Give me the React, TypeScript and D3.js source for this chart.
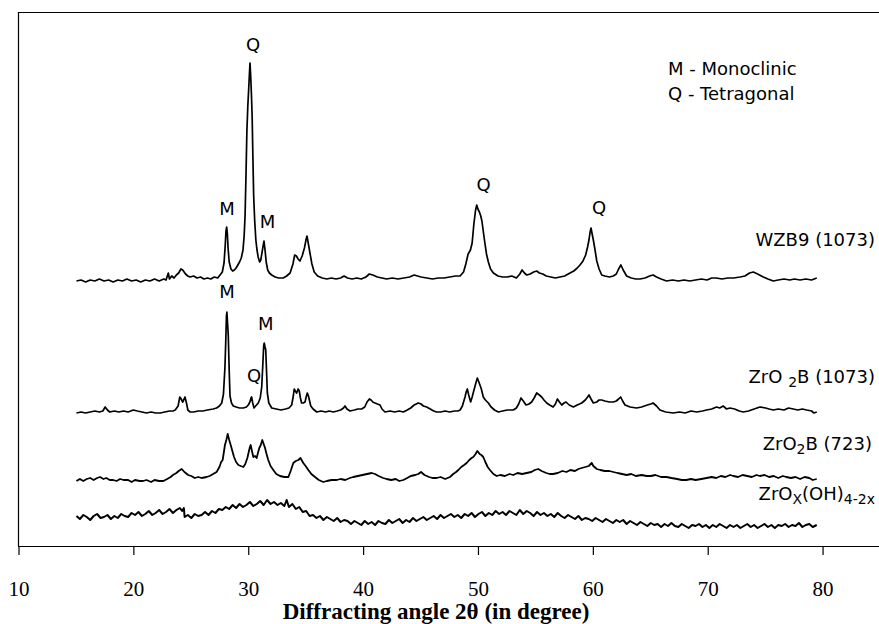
import React from "react";
import * as d3 from "d3";

// 2θ (degree) vs intensity (a.u., traces already vertically offset)
const wzb9: [number, number][] = [[15,265],[15.4,266],[15.8,264],[16.2,266],[16.6,265],[17,267],[17.4,265],[17.8,266],[18.2,264],[18.6,266],[19,265],[19.4,267],[19.8,265],[20.2,266],[20.6,264],[21,266],[21.4,265],[21.8,267],[22.2,265],[22.6,267],[22.8,266],[23.0,273],[23.1,267],[23.3,270],[23.5,268],[23.7,271],[23.9,273],[24.1,277],[24.25,276],[24.5,272],[24.7,270],[24.9,269],[25.2,270],[25.5,268],[25.8,269],[26.1,267],[26.4,268],[26.7,267],[27.0,269],[27.3,268],[27.5,271],[27.7,274],[27.85,283],[27.95,300],[28.02,315],[28.08,319],[28.14,312],[28.2,298],[28.3,284],[28.45,277],[28.6,275],[28.75,276],[28.9,278],[29.05,281],[29.2,284],[29.35,288],[29.5,296],[29.6,310],[29.68,330],[29.76,370],[29.84,415],[29.92,440],[30.0,458],[30.06,472],[30.11,483],[30.17,470],[30.24,450],[30.3,428],[30.36,390],[30.43,350],[30.52,325],[30.62,306],[30.72,296],[30.82,289],[30.95,284],[31.05,286],[31.15,293],[31.25,300],[31.33,305],[31.42,296],[31.52,284],[31.65,276],[31.8,273],[32.0,271],[32.3,269],[32.6,268],[33.0,268],[33.3,270],[33.6,273],[33.85,282],[34.0,291],[34.15,290],[34.3,287],[34.46,285],[34.65,290],[34.85,298],[35.0,307],[35.07,310],[35.18,303],[35.33,293],[35.5,282],[35.7,274],[36.0,270],[36.4,268],[36.8,267],[37.2,268],[37.6,267],[38.0,268],[38.3,270],[38.6,268],[39.0,267],[39.4,268],[39.8,267],[40.2,269],[40.5,272],[40.8,271],[41.2,269],[41.6,268],[42.0,267],[42.5,268],[43.0,267],[43.5,268],[44.0,269],[44.4,271],[44.7,270],[45.0,269],[45.5,268],[46.0,267],[46.5,268],[47.0,268],[47.5,269],[48.0,270],[48.4,270],[48.7,274],[48.9,282],[49.1,292],[49.3,296],[49.45,303],[49.6,322],[49.75,336],[49.85,341],[49.95,337],[50.08,334],[50.2,330],[50.3,325],[50.45,312],[50.57,302],[50.7,292],[50.86,284],[51.05,277],[51.3,273],[51.7,270],[52.1,269],[52.5,269],[52.9,270],[53.3,268],[53.6,272],[53.8,276],[54.0,273],[54.2,271],[54.5,272],[54.8,274],[55.07,275],[55.3,273],[55.6,272],[55.9,270],[56.3,269],[56.7,268],[57.1,269],[57.5,270],[57.97,273],[58.3,275],[58.6,278],[58.84,281],[59.1,285],[59.33,291],[59.5,299],[59.62,306],[59.72,314],[59.8,318],[59.88,313],[60.0,306],[60.12,298],[60.3,285],[60.5,277],[60.73,271],[61.0,270],[61.4,269],[61.74,270],[62.0,272],[62.2,277],[62.4,281],[62.6,276],[62.9,270],[63.3,268],[63.7,267],[64.07,267],[64.5,268],[64.9,270],[65.2,271],[65.5,269],[65.9,267],[66.37,265],[66.9,266],[67.4,265],[67.9,266],[68.4,265],[68.9,266],[69.4,267],[69.9,266],[70.3,268],[70.7,268],[71.2,267],[71.7,268],[72.2,268],[72.77,269],[73.2,270],[73.6,273],[73.93,274],[74.3,272],[74.8,269],[75.2,267],[75.67,265],[76.1,266],[76.6,267],[77.1,266],[77.5,267],[78.0,266],[78.5,267],[79.0,266],[79.45,268]];

const zro2b1073: [number, number][] = [[15,133],[15.4,134],[15.8,133],[16.2,134],[16.6,135],[17.0,134],[17.3,135],[17.5,139],[17.7,136],[17.9,134],[18.3,135],[18.7,134],[19.1,135],[19.5,134],[19.95,136],[20.3,135],[20.7,134],[21.1,133],[21.5,134],[21.9,133],[22.3,133],[22.7,134],[23.1,135],[23.4,135],[23.6,136],[23.85,140],[24.0,149],[24.12,147],[24.25,144],[24.38,147],[24.45,149],[24.58,143],[24.7,136],[24.9,134],[25.2,134],[25.6,135],[26.0,135],[26.4,136],[26.9,137],[27.2,138],[27.45,140],[27.65,143],[27.8,152],[27.93,179],[28.0,205],[28.06,230],[28.1,234],[28.16,222],[28.22,210],[28.3,175],[28.37,150],[28.5,143],[28.66,140],[28.9,139],[29.2,138],[29.53,138],[29.8,139],[29.96,141],[30.1,144],[30.2,148],[30.25,149],[30.35,143],[30.46,138],[30.6,140],[30.83,143],[31.0,148],[31.13,159],[31.22,180],[31.3,200],[31.35,203],[31.42,199],[31.48,196],[31.55,175],[31.62,153],[31.75,143],[32.0,138],[32.4,137],[32.8,136],[33.2,137],[33.5,138],[33.74,141],[33.88,150],[33.96,157],[34.05,155],[34.17,153],[34.3,157],[34.4,155],[34.5,148],[34.6,143],[34.75,143],[34.9,144],[35.0,149],[35.1,153],[35.2,150],[35.3,145],[35.4,140],[35.6,137],[35.92,134],[36.3,135],[36.7,134],[37.0,135],[37.37,134],[37.7,135],[38.0,136],[38.25,138],[38.38,140],[38.55,137],[38.82,135],[39.2,136],[39.5,137],[39.83,137],[40.1,139],[40.3,144],[40.5,147],[40.65,146],[40.8,144],[40.99,143],[41.2,142],[41.43,141],[41.6,137],[41.86,134],[42.3,135],[42.7,134],[43.1,135],[43.46,134],[43.8,136],[44.1,138],[44.4,141],[44.76,143],[45.0,142],[45.2,140],[45.49,139],[45.8,137],[46.1,135],[46.36,134],[46.7,134],[47.1,135],[47.5,134],[47.9,135],[48.2,135],[48.4,136],[48.6,140],[48.83,149],[48.93,154],[49.03,157],[49.15,151],[49.32,144],[49.45,149],[49.61,156],[49.75,162],[49.9,168],[50.0,165],[50.13,161],[50.25,157],[50.42,149],[50.6,146],[50.86,143],[51.1,139],[51.4,136],[51.73,134],[52.1,135],[52.5,136],[53.03,136],[53.3,138],[53.5,142],[53.7,148],[53.9,145],[54.14,141],[54.4,142],[54.63,144],[54.85,148],[55.07,153],[55.3,151],[55.5,149],[55.7,146],[55.94,143],[56.2,141],[56.5,139],[56.7,142],[56.87,147],[57.05,144],[57.25,141],[57.45,143],[57.62,144],[57.9,141],[58.26,139],[58.6,141],[58.99,143],[59.3,146],[59.5,149],[59.62,151],[59.8,147],[60.0,143],[60.3,144],[60.5,146],[60.73,146],[61.0,145],[61.4,144],[61.74,144],[62.0,145],[62.2,147],[62.38,149],[62.55,145],[62.76,141],[63.2,139],[63.77,138],[64.2,139],[64.7,141],[65.0,142],[65.2,143],[65.5,140],[65.8,136],[66.3,134],[66.96,133],[67.5,134],[68.0,133],[68.5,135],[69.0,134],[69.5,135],[69.86,136],[70.3,137],[70.73,139],[71.0,138],[71.3,140],[71.6,137],[71.89,138],[72.3,137],[72.7,135],[73.05,134],[73.5,135],[74.0,137],[74.5,139],[75.0,138],[75.3,137],[75.67,136],[76.1,137],[76.6,136],[77.0,138],[77.4,137],[77.8,136],[78.2,137],[78.57,136],[79.0,135],[79.2,133],[79.45,134]];

const zro2b723: [number, number][] = [[15,65],[15.3,67],[15.6,65],[15.9,67],[16.2,68],[16.5,66],[16.8,68],[17.05,69],[17.35,67],[17.6,68],[17.9,66],[18.2,66],[18.5,65],[18.8,67],[19.1,66],[19.5,66],[19.8,64],[20.1,66],[20.5,65],[20.8,65],[21.1,66],[21.5,64],[21.8,66],[22.2,65],[22.57,65],[22.9,67],[23.2,69],[23.4,71],[23.7,73],[23.9,75],[24.16,77],[24.4,74],[24.73,71],[25.0,70],[25.3,68],[25.6,69],[25.9,68],[26.33,69],[26.6,70],[26.9,72],[27.2,74],[27.45,79],[27.6,84],[27.73,86],[27.85,95],[27.93,101],[28.05,106],[28.17,112],[28.3,106],[28.43,101],[28.55,96],[28.72,89],[28.9,84],[29.1,81],[29.3,80],[29.53,79],[29.7,82],[29.88,88],[30.0,94],[30.1,99],[30.17,101],[30.28,95],[30.4,89],[30.55,90],[30.69,88],[30.8,93],[30.92,98],[31.05,101],[31.18,106],[31.3,102],[31.42,98],[31.55,92],[31.7,86],[31.9,80],[32.14,76],[32.4,72],[32.72,70],[33.1,69],[33.45,69],[33.65,75],[33.88,83],[34.1,85],[34.32,86],[34.5,88],[34.75,83],[34.95,80],[35.19,76],[35.45,72],[35.77,69],[36.1,66],[36.49,64],[36.8,65],[37.2,66],[37.66,66],[38.0,67],[38.4,66],[38.8,68],[39.1,69],[39.5,70],[39.9,71],[40.3,72],[40.7,73],[41.0,72],[41.3,70],[41.7,68],[42.0,67],[42.4,66],[42.8,67],[43.1,65],[43.46,66],[43.8,68],[44.1,70],[44.5,71],[44.76,72],[45.0,74],[45.3,71],[45.7,69],[46.0,68],[46.36,68],[46.7,69],[47.1,67],[47.52,69],[47.8,72],[48.05,74],[48.25,76],[48.5,79],[48.75,81],[48.97,83],[49.2,86],[49.4,88],[49.55,89],[49.75,92],[49.9,95],[49.98,94],[50.1,92],[50.25,91],[50.42,89],[50.6,84],[50.8,79],[51.0,76],[51.3,72],[51.58,70],[51.9,71],[52.3,70],[52.7,72],[53.03,71],[53.4,73],[53.8,72],[54.2,73],[54.6,74],[54.9,76],[55.2,77],[55.5,75],[55.9,73],[56.2,72],[56.5,72],[56.9,73],[57.3,75],[57.66,74],[58.0,76],[58.4,75],[58.7,77],[58.99,78],[59.3,79],[59.6,80],[59.86,83],[60.0,80],[60.3,77],[60.6,76],[61.0,75],[61.4,75],[61.74,74],[62.1,73],[62.5,72],[62.9,71],[63.3,72],[63.7,70],[64.2,71],[64.64,70],[65.0,70],[65.4,71],[65.9,69],[66.37,69],[66.8,68],[67.3,67],[67.7,66],[68.1,66],[68.5,67],[68.9,66],[69.4,67],[69.86,68],[70.3,69],[70.7,68],[71.1,70],[71.5,69],[71.9,71],[72.2,70],[72.6,69],[73.0,71],[73.4,70],[73.8,69],[74.2,71],[74.5,70],[74.9,71],[75.3,69],[75.7,70],[76.1,68],[76.5,70],[76.8,69],[77.2,68],[77.6,69],[78.0,67],[78.4,69],[78.8,68],[79.1,66],[79.45,67]];

const zroxoh: [number, number][] = [[15.0,30],[15.3,27],[15.6,31],[15.9,29],[16.2,26],[16.5,30],[16.8,32],[17.1,28],[17.4,29],[17.7,31],[18.0,27],[18.3,30],[18.6,28],[18.9,32],[19.2,30],[19.5,29],[19.8,33],[20.1,31],[20.4,34],[20.7,30],[21.0,32],[21.3,35],[21.6,31],[21.9,33],[22.2,36],[22.5,32],[22.8,34],[23.1,37],[23.4,33],[23.7,36],[24.0,38],[24.2,35],[24.35,38],[24.42,29],[24.7,31],[25.0,28],[25.3,32],[25.6,30],[25.9,31],[26.2,34],[26.5,31],[26.8,35],[27.1,33],[27.4,37],[27.7,36],[28.0,39],[28.3,37],[28.6,41],[28.9,38],[29.2,42],[29.5,39],[29.8,41],[30.1,44],[30.4,40],[30.7,42],[31.0,45],[31.3,41],[31.6,46],[31.9,42],[32.2,44],[32.5,41],[32.8,43],[33.1,40],[33.3,46],[33.5,39],[33.8,42],[34.1,37],[34.4,39],[34.7,34],[35.0,35],[35.3,30],[35.6,31],[35.9,28],[36.2,30],[36.5,26],[36.8,29],[37.1,27],[37.4,25],[37.7,28],[38.0,24],[38.3,26],[38.6,25],[38.9,22],[39.2,25],[39.5,23],[39.8,21],[40.1,25],[40.4,22],[40.7,24],[41.0,21],[41.3,25],[41.6,23],[41.9,22],[42.2,26],[42.5,23],[42.8,25],[43.1,27],[43.4,23],[43.7,26],[44.0,24],[44.3,28],[44.6,25],[44.9,27],[45.2,29],[45.5,26],[45.8,28],[46.1,30],[46.4,27],[46.7,31],[47.0,28],[47.3,30],[47.6,32],[47.9,29],[48.2,31],[48.5,28],[48.8,32],[49.1,30],[49.4,33],[49.7,29],[50.0,32],[50.3,34],[50.6,30],[50.9,33],[51.2,31],[51.5,35],[51.8,32],[52.1,34],[52.4,31],[52.7,35],[53.0,33],[53.3,31],[53.6,36],[53.9,32],[54.2,35],[54.5,33],[54.8,30],[55.1,34],[55.4,31],[55.7,33],[56.0,30],[56.3,32],[56.6,29],[56.9,33],[57.2,30],[57.5,28],[57.8,31],[58.1,29],[58.4,27],[58.7,30],[59.0,26],[59.3,28],[59.6,27],[59.9,25],[60.2,28],[60.5,26],[60.8,24],[61.1,27],[61.4,25],[61.7,23],[62.0,26],[62.3,24],[62.6,26],[62.9,22],[63.2,25],[63.5,23],[63.8,21],[64.1,24],[64.4,22],[64.7,20],[65.0,23],[65.3,21],[65.6,22],[65.9,19],[66.2,22],[66.5,20],[66.8,23],[67.1,20],[67.4,19],[67.7,22],[68.0,20],[68.3,18],[68.6,21],[68.9,20],[69.2,22],[69.5,19],[69.8,21],[70.1,18],[70.4,21],[70.7,19],[71.0,22],[71.3,20],[71.6,18],[71.9,21],[72.2,19],[72.5,21],[72.8,18],[73.1,20],[73.4,22],[73.7,19],[74.0,21],[74.3,18],[74.6,20],[74.9,22],[75.2,19],[75.5,21],[75.8,18],[76.1,21],[76.4,20],[76.7,22],[77.0,19],[77.3,21],[77.6,20],[77.9,23],[78.2,19],[78.5,21],[78.8,22],[79.1,19],[79.45,21]];

const xTicks = [10, 20, 30, 40, 50, 60, 70, 80];

// phase labels: [text, 2θ, intensity]
const phaseLabels: [string, number, number][] = [
  ["Q", 30.37, 495],
  ["M", 28.11, 331],
  ["M", 31.63, 318],
  ["Q", 50.44, 355],
  ["Q", 60.5, 332],
  ["M", 28.11, 248],
  ["M", 31.49, 216],
  ["Q", 30.46, 164],
];

const legendLines = ["M - Monoclinic", "Q - Tetragonal"];

const W = 879;
const H = 624;

export default function App() {
  const x = d3.scaleLinear().domain([10, 85]).range([19, 880.5]);
  const y = d3.scaleLinear().domain([0, 534]).range([546, 12]);
  const line = d3
    .line<[number, number]>()
    .x((d) => x(d[0]))
    .y((d) => y(d[1]));
  const series = [wzb9, zro2b1073, zro2b723, zroxoh];
  const widths = [1.7, 1.7, 1.8, 2.0];
  const sans = "'DejaVu Sans', Verdana, sans-serif";
  const serif = "'Liberation Serif', 'Times New Roman', serif";
  const rightX = 875;
  return (
    <svg
      width={W}
      height={H}
      style={{ position: "absolute", left: 0, top: 0, background: "#fff" }}
    >
      <rect x={0} y={0} width={W} height={H} fill="#fff" />
      <line x1={18.5} x2={W} y1={12.5} y2={12.5} stroke="#000" strokeWidth={1.2} />
      <line x1={18.5} x2={18.5} y1={12} y2={546.5} stroke="#000" strokeWidth={1.2} />
      <line x1={18} x2={W} y1={546.5} y2={546.5} stroke="#000" strokeWidth={1.2} />
      {xTicks.map((t) => (
        <g key={t}>
          <line x1={x(t)} x2={x(t)} y1={546} y2={555} stroke="#000" strokeWidth={1.2} />
          <text
            x={x(t)}
            y={596}
            textAnchor="middle"
            fontFamily={serif}
            fontSize={21}
            fill="#000"
          >
            {t}
          </text>
        </g>
      ))}
      <text
        x={436}
        y={619}
        textAnchor="middle"
        fontFamily={serif}
        fontWeight="bold"
        fontSize={23}
        fill="#000"
      >
        Diffracting angle 2θ (in degree)
      </text>
      {series.map((s, i) => (
        <path
          key={i}
          d={line(s) || ""}
          fill="none"
          stroke="#000"
          strokeWidth={widths[i]}
          strokeLinejoin="round"
        />
      ))}
      {phaseLabels.map(([t, a, v], i) => (
        <text
          key={i}
          x={x(a)}
          y={y(v)}
          textAnchor="middle"
          fontFamily={sans}
          fontSize={18}
          fill="#000"
        >
          {t}
        </text>
      ))}
      {legendLines.map((t, i) => (
        <text key={t} x={668} y={75 + i * 25} fontFamily={sans} fontSize={18} fill="#000">
          {t}
        </text>
      ))}
      <g fontFamily={sans} fontSize={18} fill="#000" textAnchor="end">
        <text x={rightX} y={246}>WZB9 (1073)</text>
        <text x={rightX} y={383}>
          ZrO <tspan fontSize={14} dy={4}>2</tspan>
          <tspan dy={-4}>B (1073)</tspan>
        </text>
        <text x={872} y={450}>
          ZrO<tspan fontSize={14} dy={4}>2</tspan>
          <tspan dy={-4}>B (723)</tspan>
        </text>
        <text x={rightX} y={500}>
          ZrO<tspan fontSize={14} dy={4}>X</tspan>
          <tspan dy={-4}>(OH)</tspan>
          <tspan fontSize={14} dy={4}>4-2x</tspan>
        </text>
      </g>
    </svg>
  );
}
